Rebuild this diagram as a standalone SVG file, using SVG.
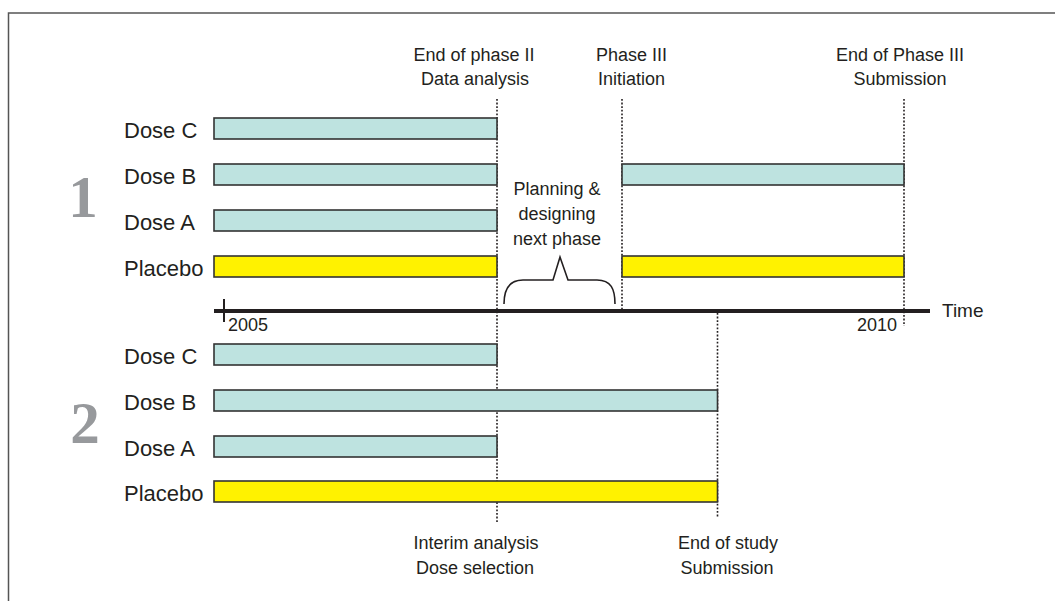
<svg xmlns="http://www.w3.org/2000/svg" width="1055" height="601" viewBox="0 0 1055 601">
<style>
.lbl{font-family:"Liberation Sans",Arial,sans-serif;font-size:22px;fill:#231f20}
.note{font-family:"Liberation Sans",Arial,sans-serif;font-size:18px;fill:#231f20;text-anchor:middle}
.big{font-family:"Liberation Serif","Times New Roman",serif;font-size:59px;font-weight:bold;fill:#97999c;text-anchor:middle}
.yr{font-family:"Liberation Sans",Arial,sans-serif;font-size:18px;fill:#231f20}
.teal{fill:#bee3e0;stroke:#333;stroke-width:1.6}
.yel{fill:#fff200;stroke:#333;stroke-width:1.6}
.dot{stroke:#231f20;stroke-width:1.6;stroke-dasharray:1.8 1.8;fill:none}
</style>
<rect width="1055" height="601" fill="#fff"/>
<rect x="8.5" y="13" width="1100" height="700" fill="none" stroke="#555" stroke-width="1.5"/>

<g id="connectors">
<line class="dot" x1="497" y1="99" x2="497" y2="522"/>
<line class="dot" x1="622" y1="99" x2="622" y2="309"/>
<line class="dot" x1="904" y1="99" x2="904" y2="326"/>
<line class="dot" x1="717.5" y1="313" x2="717.5" y2="518"/>
<path d="M504,304 C504,289 509,280 523,280 L553,280 L560,257 L568,280 L597,280 C611,280 615,289 615,304" fill="none" stroke="#231f20" stroke-width="1.6"/>
</g>

<g id="axis">
<line x1="214" y1="311" x2="930" y2="311" stroke="#231f20" stroke-width="4"/>
<line x1="224" y1="299" x2="224" y2="322" stroke="#231f20" stroke-width="2"/>
<text class="yr" x="228" y="331">2005</text>
<text class="yr" x="897" y="331" text-anchor="end">2010</text>
<text class="lbl" x="942" y="317" style="font-size:19px">Time</text>
</g>

<g id="study1">
<text class="big" x="83" y="217">1</text>
<g id="s1-doseC"><text class="lbl" x="124" y="137.5">Dose C</text><rect class="teal" x="214" y="118" width="283" height="21"/></g>
<g id="s1-doseB"><text class="lbl" x="124" y="184">Dose B</text><rect class="teal" x="214" y="164" width="283" height="21"/><rect class="teal" x="622" y="164" width="282" height="21"/></g>
<g id="s1-doseA"><text class="lbl" x="124" y="230">Dose A</text><rect class="teal" x="214" y="210" width="283" height="21"/></g>
<g id="s1-placebo"><text class="lbl" x="124" y="276">Placebo</text><rect class="yel" x="214" y="256" width="283" height="21"/><rect class="yel" x="622" y="256" width="282" height="21"/></g>
</g>

<g id="study2">
<text class="big" x="85" y="443">2</text>
<g id="s2-doseC"><text class="lbl" x="124" y="363.5">Dose C</text><rect class="teal" x="214" y="344" width="283" height="21"/></g>
<g id="s2-doseB"><text class="lbl" x="124" y="409.5">Dose B</text><rect class="teal" x="214" y="390" width="503.5" height="21"/></g>
<g id="s2-doseA"><text class="lbl" x="124" y="455.5">Dose A</text><rect class="teal" x="214" y="436" width="283" height="21"/></g>
<g id="s2-placebo"><text class="lbl" x="124" y="501">Placebo</text><rect class="yel" x="214" y="481" width="503.5" height="21"/></g>
</g>

<g id="milestone-end-phase2"><text class="note" x="474" y="60.5">End of phase II</text><text class="note" x="475" y="85">Data analysis</text></g>
<g id="milestone-phase3"><text class="note" x="631.5" y="60.5">Phase III</text><text class="note" x="631.5" y="85">Initiation</text></g>
<g id="milestone-end-phase3"><text class="note" x="900" y="60.5">End of Phase III</text><text class="note" x="900" y="85">Submission</text></g>
<g id="planning"><text class="note" x="557" y="195">Planning &amp;</text><text class="note" x="557" y="220">designing</text><text class="note" x="557" y="245">next phase</text></g>
<g id="milestone-interim"><text class="note" x="476" y="549">Interim analysis</text><text class="note" x="475" y="574">Dose selection</text></g>
<g id="milestone-end-study"><text class="note" x="728" y="549">End of study</text><text class="note" x="727" y="574">Submission</text></g>
</svg>
